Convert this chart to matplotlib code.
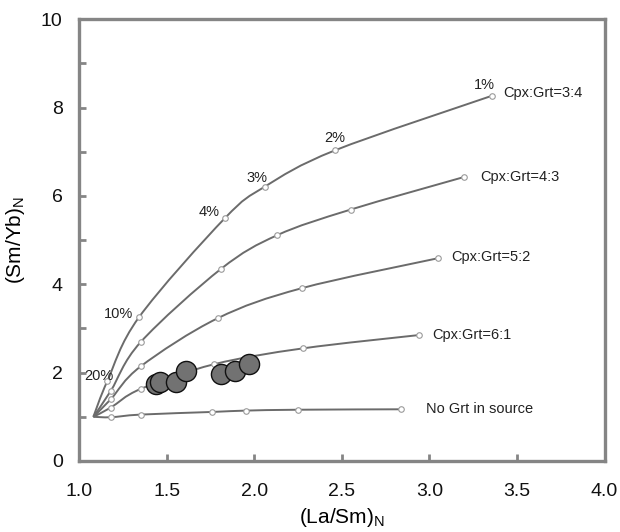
import numpy as np
import matplotlib.pyplot as plt
from matplotlib.path import Path
from matplotlib.patches import PathPatch

plt.rcParams['font.family'] = ['Liberation Sans', 'DejaVu Sans']

# melting curves, (La/Sm)N vs (Sm/Yb)N
x_34 = [1.08, 1.16, 1.34, 1.83, 2.06, 2.46, 3.36]
y_34 = [1.00, 1.81, 3.25, 5.49, 6.21, 7.03, 8.27]
x_43 = [1.08, 1.18, 1.35, 1.81, 2.13, 2.55, 3.20]
y_43 = [1.00, 1.59, 2.69, 4.35, 5.11, 5.69, 6.43]
x_52 = [1.08, 1.18, 1.35, 1.79, 2.27, 3.05]
y_52 = [1.00, 1.40, 2.14, 3.23, 3.91, 4.59]
x_61 = [1.08, 1.18, 1.35, 1.77, 2.28, 2.94]
y_61 = [1.00, 1.21, 1.63, 2.19, 2.55, 2.85]
x_no = [1.08, 1.18, 1.35, 1.76, 1.95, 2.25, 2.84]
y_no = [1.00, 0.99, 1.05, 1.11, 1.14, 1.16, 1.17]

curves = [(x_34, y_34, "Cpx:Grt=3:4"),
          (x_43, y_43, "Cpx:Grt=4:3"),
          (x_52, y_52, "Cpx:Grt=5:2"),
          (x_61, y_61, "Cpx:Grt=6:1"),
          (x_no, y_no, "No Grt in source")]
name_off = [(11, 3), (16, 0), (13, 1), (13, 0), (25, 0)]

pct = ["20%", "10%", "4%", "3%", "2%", "1%"]
pct_off = [(-8, 5), (-20, 3), (-16, 6), (-8, 9), (0, 12), (-8, 11)]

# samples
samp_x = [1.44, 1.46, 1.55, 1.61, 1.81, 1.89, 1.97]
samp_y = [1.74, 1.79, 1.79, 2.04, 1.96, 2.04, 2.19]


def smooth_path(xs, ys):
    # excel-like smoothed line (catmull-rom as cubic bezier)
    p = np.column_stack([xs, ys])
    verts = [p[0]]
    codes = [Path.MOVETO]
    n = len(p)
    for i in range(n - 1):
        p0 = p[i - 1] if i > 0 else p[i]
        p3 = p[i + 2] if i + 2 < n else p[i + 1]
        c1 = p[i] + (p[i + 1] - p0) / 6
        c2 = p[i + 1] - (p3 - p[i]) / 6
        verts += [c1, c2, p[i + 1]]
        codes += [Path.CURVE4] * 3
    return Path(verts, codes)


fig = plt.figure(figsize=(6.2, 5.32), dpi=100)
ax = fig.add_axes([0.128, 0.1335, 0.847, 0.8305])

line_col = '#6b6b6b'
for (xs, ys, name), off in zip(curves, name_off):
    ax.add_patch(PathPatch(smooth_path(xs, ys), fill=False, ec=line_col, lw=1.4))
    ax.plot(xs[1:], ys[1:], 'o', ms=4, mfc='white', mec='#9a9a9a', mew=0.8, zorder=3)
    ax.annotate(name, (xs[-1], ys[-1]), xytext=off, textcoords='offset pixels',
                ha='left', va='center', fontsize=10.5, color='#222222')

for lab, off, xx, yy in zip(pct, pct_off, x_34[1:], y_34[1:]):
    ax.annotate(lab, (xx, yy), xytext=off, textcoords='offset pixels',
                ha='center', va='center', fontsize=10.5, color='#222222')

ax.plot(samp_x, samp_y, 'o', ms=14.5, mfc='#727272', mec='#111111', mew=1.0, zorder=4)

ax.set_xlim(1.0, 4.0)
ax.set_ylim(0, 10)
ax.set_xticks(np.arange(1.0, 4.01, 0.5))
ax.set_yticks([0, 2, 4, 6, 8, 10])
ax.set_yticks(np.arange(1, 10, 2), minor=True)
ax.tick_params(axis='both', which='both', direction='in', length=5, width=2,
               color='#858585', labelsize=14, labelcolor='#111111')
ax.tick_params(axis='x', pad=16)
ax.tick_params(axis='y', pad=12)
for s in ax.spines.values():
    s.set_color('#858585')
    s.set_linewidth(2.4)

ax.set_xlabel(r'(La/Sm)$_\mathregular{N}$', fontsize=15, labelpad=4)
ax.set_ylabel(r'(Sm/Yb)$_\mathregular{N}$', fontsize=15, labelpad=10)

fig.savefig('out.png', dpi=100)
